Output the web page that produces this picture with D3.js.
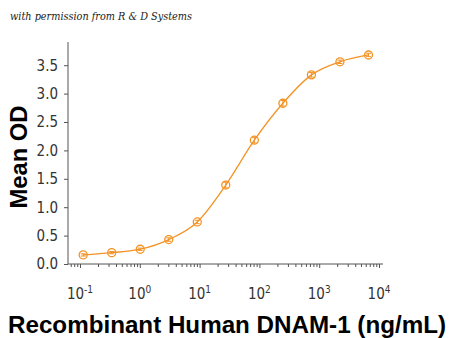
<!DOCTYPE html>
<html><head><meta charset="utf-8">
<script src="https://cdn.jsdelivr.net/npm/d3@7/dist/d3.min.js"></script>
<style>
body{margin:0;background:#fff;}
svg{display:block;}
</style></head>
<body>
<svg id="chart" width="450" height="338"></svg>
<script>
// Data
const concentrations = [0.113, 0.339, 1.016, 3.05, 9.14, 27.4, 82.3, 247, 741, 2222, 6667];
const meanOD = [0.16, 0.20, 0.26, 0.43, 0.74, 1.39, 2.18, 2.83, 3.33, 3.56, 3.68];
const errOD = [0.02, 0.02, 0.02, 0.03, 0.03, 0.05, 0.05, 0.05, 0.04, 0.03, 0.03];
const yTicks = [0.0, 0.5, 1.0, 1.5, 2.0, 2.5, 3.0, 3.5];
const xTickExponents = [-1, 0, 1, 2, 3, 4];

const color = "#F39325";
const svg = d3.select("#chart");
const tickFont = "'Liberation Sans Narrow', 'DejaVu Sans Condensed', 'Open Sans', sans-serif";

// scales
const x0 = d3.scaleLog().domain([0.1, 1e4]).range([80, 379]);
const x = d3.scaleLog().domain([x0.invert(68), x0.invert(383)]).range([68, 383]);
const y = d3.scaleLinear().domain([0, 3.5]).range([264, 65.2]);
const yTop = y.invert(42);
y.domain([0, yTop]).range([264, 42]);

// credit text
svg.append("text").attr("x", 10).attr("y", 20)
  .attr("font-family", "'DejaVu Serif', 'Liberation Serif', serif")
  .attr("font-style", "italic").attr("font-size", 11.5).attr("fill", "#222")
  .attr("textLength", 182).attr("lengthAdjust", "spacingAndGlyphs")
  .text("with permission from R & D Systems");

// y axis
const yAxis = d3.axisLeft(y).tickValues(yTicks).tickFormat(d3.format(".1f")).tickSize(4).tickPadding(6);
const gy = svg.append("g").attr("transform", "translate(68,0)").call(yAxis);
gy.select(".domain").attr("stroke", "#555").attr("d", `M0,${y.range()[1]}V${y.range()[0]}`);
gy.selectAll(".tick line").attr("stroke", "#555");
gy.selectAll(".tick text")
  .attr("font-family", tickFont).attr("font-stretch", "condensed")
  .attr("font-size", 15).attr("fill", "#333");

// x axis with minor ticks
const minor = [];
for (let e = -2; e <= 4; e++) for (let m = 1; m <= 9; m++) {
  const v = m * Math.pow(10, e);
  if (v >= x.domain()[0] && v <= x.domain()[1]) minor.push(v);
}
const xAxis = d3.axisBottom(x).tickValues(minor).tickFormat("").tickSize(3);
const gx = svg.append("g").attr("transform", "translate(0,264)").call(xAxis);
gx.select(".domain").attr("stroke", "#555").attr("d", `M${x.range()[0]},0H${x.range()[1]}`);
gx.selectAll(".tick line").attr("stroke", "#555")
  .attr("y2", d => Math.abs(Math.log10(d) - Math.round(Math.log10(d))) < 1e-9 ? 4 : 3);

// x tick labels 10^n
const xl = svg.append("g");
xTickExponents.forEach(e => {
  const t = xl.append("text").attr("x", x(Math.pow(10, e))).attr("y", 299)
    .attr("text-anchor", "middle")
    .attr("font-family", tickFont).attr("font-stretch", "condensed")
    .attr("font-size", 15).attr("fill", "#333");
  t.append("tspan").text("10");
  t.append("tspan").attr("dy", -6).attr("font-size", 10).text(String(e));
});

// curve through points
const pts = concentrations.map((c, i) => [c, meanOD[i], errOD[i]]);
const line = d3.line().x(d => x(d[0])).y(d => y(d[1])).curve(d3.curveMonotoneX);
svg.append("path").datum(pts).attr("d", line)
  .attr("fill", "none").attr("stroke", color).attr("stroke-width", 1.3);

// error bars
const eb = svg.append("g").attr("stroke", color).attr("stroke-width", 1);
pts.forEach(d => {
  const cx = x(d[0]);
  eb.append("line").attr("x1", cx).attr("x2", cx).attr("y1", y(d[1] - d[2])).attr("y2", y(d[1] + d[2]));
  eb.append("line").attr("x1", cx - 2.5).attr("x2", cx + 2.5).attr("y1", y(d[1] - d[2])).attr("y2", y(d[1] - d[2]));
  eb.append("line").attr("x1", cx - 2.5).attr("x2", cx + 2.5).attr("y1", y(d[1] + d[2])).attr("y2", y(d[1] + d[2]));
});

// markers
svg.append("g").selectAll("circle").data(pts).join("circle")
  .attr("cx", d => x(d[0])).attr("cy", d => y(d[1])).attr("r", 4)
  .attr("fill", "none").attr("stroke", color).attr("stroke-width", 1.3);

// axis titles
svg.append("text").attr("transform", "translate(27,157) rotate(-90)")
  .attr("text-anchor", "middle")
  .attr("font-family", "'Liberation Sans', Arial, sans-serif").attr("font-weight", "bold")
  .attr("font-size", 23).attr("fill", "#000")
  .attr("textLength", 103).attr("lengthAdjust", "spacingAndGlyphs")
  .text("Mean OD");

svg.append("text").attr("x", 227).attr("y", 333)
  .attr("text-anchor", "middle")
  .attr("font-family", "'Liberation Sans', Arial, sans-serif").attr("font-weight", "bold")
  .attr("font-size", 24).attr("fill", "#000")
  .attr("textLength", 438).attr("lengthAdjust", "spacingAndGlyphs")
  .text("Recombinant Human DNAM-1 (ng/mL)");
</script>
</body></html>
